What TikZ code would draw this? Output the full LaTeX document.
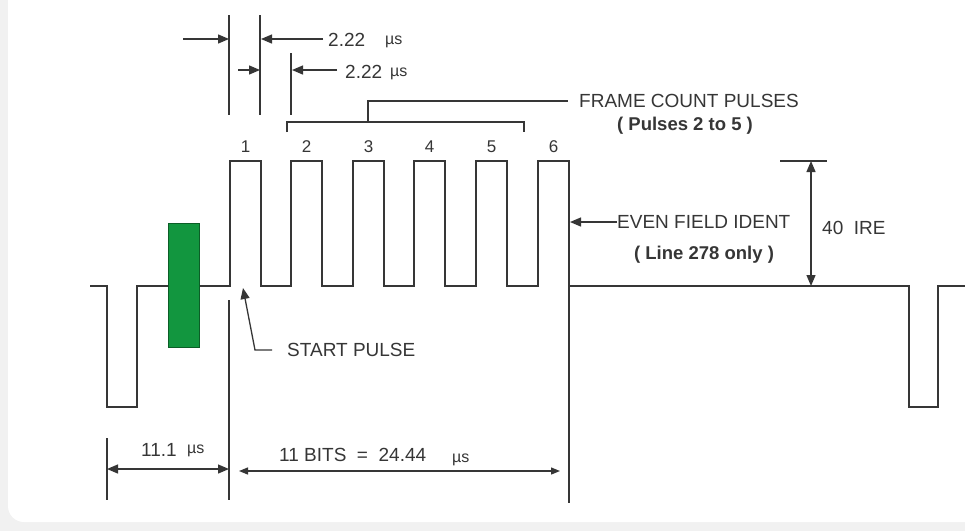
\documentclass[tikz,border=0pt]{standalone}
\usepackage{fontspec}
\setmainfont{Liberation Sans}
\usetikzlibrary{arrows.meta}
\definecolor{ink}{HTML}{363636}
\definecolor{bggray}{HTML}{F1F1F1}
\definecolor{pgreen}{HTML}{12963F}
\definecolor{pgreendk}{HTML}{0B5E27}
\begin{document}
\begin{tikzpicture}[x=1pt,y=-1pt,
  wave/.style={draw=ink,line width=1.4pt,line join=miter},
  dimline/.style={draw=ink,line width=1.3pt},
  arr/.style={dimline,-{Triangle[length=11pt,width=9pt]}},
  dbl/.style={dimline,{Triangle[length=11pt,width=9pt]}-{Triangle[length=11pt,width=9pt]}},
  dblsm/.style={dimline,{Triangle[length=9pt,width=7pt]}-{Triangle[length=9pt,width=7pt]}},
  lbl/.style={text=ink,inner sep=0pt,font=\fontsize{19}{21}\selectfont},
  lblb/.style={text=ink,inner sep=0pt,font=\fontsize{18.5}{21}\selectfont\bfseries},
  unit/.style={text=ink,inner sep=0pt,font=\fontsize{16}{18}\selectfont},
  num/.style={text=ink,inner sep=0pt,font=\fontsize{17}{19}\selectfont}]
\useasboundingbox (0,0) rectangle (965,531);
% card background
\fill[bggray] (0,0) rectangle (965,531);
\fill[white,rounded corners=16pt] (8,-20) rectangle (990,522);

% waveform
\draw[wave] (90,286) -- (107,286) -- (107,407) -- (137,407) -- (137,286)
  -- (230,286) -- (230,161) -- (261,161) -- (261,286)
  -- (291,286) -- (291,161) -- (322,161) -- (322,286)
  -- (353,286) -- (353,161) -- (384,161) -- (384,286)
  -- (414,286) -- (414,161) -- (445,161) -- (445,286)
  -- (476,286) -- (476,161) -- (507,161) -- (507,286)
  -- (538,286) -- (538,161) -- (569,161) -- (569,286)
  -- (909,286) -- (909,407) -- (938,407) -- (938,286) -- (975,286);
\node[draw=pgreendk,fill=pgreen,line width=1pt,minimum width=31pt,minimum height=124pt,inner sep=0pt] (burst) at (183.5,285) {};

% pulse numbers
\foreach \i/\x in {1/245.5,2/306.5,3/368.5,4/429.5,5/491.5,6/553.5}
  \node[num] (n\i) at (\x,147) {\i};

% top extension lines and 2.22 us dimensions
\coordinate (e1t) at (229,15);  \coordinate (e1b) at (229,115);
\coordinate (e2t) at (260,15);  \coordinate (e2b) at (260,115);
\coordinate (e3t) at (291,53);  \coordinate (e3b) at (291,115);
\draw[dimline] (e1t) -- (e1b);
\draw[dimline] (e2t) -- (e2b);
\draw[dimline] (e3t) -- (e3b);
\coordinate (a1s) at (183,39);  \coordinate (a1e) at (229,39);
\coordinate (a2s) at (323,39);  \coordinate (a2e) at (261,39);
\coordinate (a3s) at (238,70);  \coordinate (a3e) at (260,70);
\coordinate (a4s) at (337,70);  \coordinate (a4e) at (292,70);
\draw[arr] (a1s) -- (a1e);
\draw[arr] (a2s) -- (a2e);
\draw[arr] (a3s) -- (a3e);
\draw[arr] (a4s) -- (a4e);
\node[lbl,anchor=west] (t1) at (328,40) {2.22};
\node[unit,anchor=west] (u1) at (385,42) {µs};
\node[lbl,anchor=west] (t2) at (345,72) {2.22};
\node[unit,anchor=west] (u2) at (390,74) {µs};

% frame count bracket
\coordinate (b1) at (287,132); \coordinate (b2) at (287,122);
\coordinate (b3) at (524,122); \coordinate (b4) at (524,132);
\coordinate (s1) at (368,122); \coordinate (s2) at (368,101); \coordinate (s3) at (568,101);
\draw[dimline] (b1) -- (b2) -- (b3) -- (b4);
\draw[dimline] (s1) -- (s2) -- (s3);
\node[lbl,anchor=west] (fc) at (579,101) {FRAME COUNT PULSES};
\node[lblb] (fc2) at (685,126) {( Pulses 2 to 5 )};

% even field ident
\coordinate (ef) at (617,222); \coordinate (efe) at (570,222);
\draw[arr] (ef) -- (efe);
\node[lbl,anchor=west] (eft) at (617,222) {EVEN FIELD IDENT};
\node[lblb] (eft2) at (704,255) {( Line 278 only )};

% 40 IRE
\coordinate (i1) at (780,161); \coordinate (i2) at (827,161);
\coordinate (i3) at (811,161); \coordinate (i4) at (811,286);
\draw[dimline] (i1) -- (i2);
\draw[dbl] (i3) -- (i4);
\node[lbl,anchor=west] (ire) at (822,228) {40\ \ IRE};

% start pulse
\coordinate (sp1) at (229,300); \coordinate (sp2) at (229,500);
\draw[dimline] (sp1) -- (sp2);
\coordinate (sa1) at (272,350); \coordinate (sa2) at (255,350); \coordinate (sa3) at (243,288);
\draw[arr] (sa1) -- (sa2) -- (sa3);
\node[lbl,anchor=west] (spt) at (287,350) {START PULSE};

% bottom dimensions
\coordinate (l1) at (107,438); \coordinate (l2) at (107,500);
\coordinate (r1) at (569,286); \coordinate (r2) at (569,503);
\draw[dimline] (l1) -- (l2);
\draw[dimline] (r1) -- (r2);
\coordinate (d1) at (107,469); \coordinate (d2) at (229,469);
\draw[dbl] (d1) -- (d2);
\node[lbl,anchor=west] (t111) at (141,450) {11.1};
\node[unit,anchor=west] (u111) at (187,451) {µs};
\coordinate (d3) at (239,471); \coordinate (d4) at (560,471);
\draw[dblsm] (d3) -- (d4);
\node[lbl,anchor=west] (bits) at (279,455) {11 BITS\ \ =\ \ 24.44};
\node[unit,anchor=west] (ubits) at (452,460) {µs};
\end{tikzpicture}
\end{document}
